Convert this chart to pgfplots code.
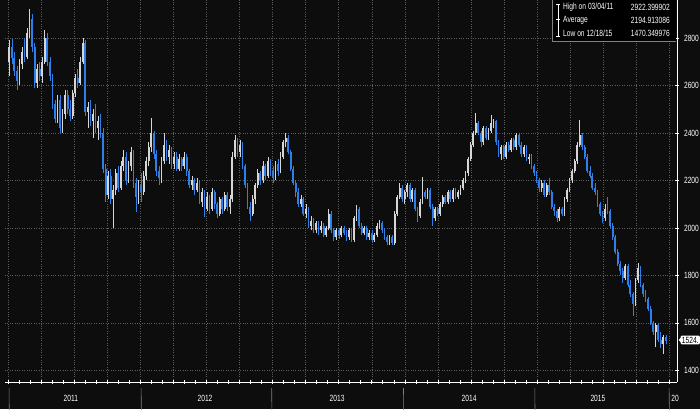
\documentclass[border=0pt]{standalone}
\usepackage{pgfplots}
\pgfplotsset{compat=1.18}
\usepackage{pgfplotstable}
\usepackage{fontspec}
\setmainfont{Liberation Sans}
\newfontfamily\bbg{Liberation Sans}[FakeStretch=0.74]

\definecolor{cup}{HTML}{D6D6D6}
\definecolor{cdown}{HTML}{2F7FEA}
\definecolor{bg}{HTML}{0D0D0D}
\definecolor{gridc}{HTML}{5C5C5C}

% weekly candles, first week ends 01/07/11
\pgfplotstableread[row sep=\\]{
o h l c\\
2700 2790 2640 2760\\ 2760 2795 2690 2715\\ 2715 2740 2640 2660\\ 2660 2680 2580 2620\\ 2620 2710 2600 2690\\ 2690 2760 2670 2740\\
2740 2800 2700 2720\\ 2720 2840 2710 2820\\ 2820 2922 2800 2880\\ 2880 2900 2740 2760\\ 2760 2780 2590 2610\\ 2610 2690 2590 2670\\
2670 2700 2620 2640\\ 2640 2720 2610 2700\\ 2700 2833 2690 2800\\ 2800 2820 2680 2700\\ 2700 2720 2620 2640\\ 2640 2650 2500 2520\\
2520 2540 2440 2460\\ 2460 2560 2440 2540\\ 2540 2560 2400 2420\\ 2420 2500 2399 2480\\ 2480 2580 2460 2560\\ 2560 2580 2480 2500\\
2500 2540 2450 2470\\ 2470 2580 2460 2570\\ 2570 2650 2550 2630\\ 2630 2670 2590 2610\\ 2610 2720 2600 2700\\ 2700 2800 2690 2780\\
2780 2790 2470 2490\\ 2490 2530 2420 2510\\ 2510 2540 2430 2450\\ 2450 2500 2380 2480\\ 2480 2520 2400 2420\\ 2420 2470 2370 2450\\
2450 2480 2380 2400\\ 2400 2420 2230 2250\\ 2250 2270 2110 2140\\ 2140 2240 2120 2220\\ 2220 2250 2100 2120\\ 2120 2180 2000 2160\\
2160 2250 2140 2230\\ 2230 2260 2150 2170\\ 2170 2280 2160 2260\\ 2260 2330 2240 2300\\ 2300 2320 2180 2200\\ 2200 2280 2190 2260\\
2260 2340 2240 2320\\ 2320 2330 2170 2190\\ 2190 2210 2065 2130\\ 2130 2200 2100 2180\\
2180 2230 2110 2150\\ 2150 2240 2140 2220\\ 2220 2300 2200 2280\\ 2280 2360 2260 2340\\ 2340 2462 2320 2400\\ 2400 2410 2290 2310\\
2310 2330 2220 2240\\ 2240 2260 2180 2210\\ 2210 2300 2190 2280\\ 2280 2400 2270 2350\\ 2350 2370 2280 2300\\ 2300 2350 2270 2330\\
2330 2340 2250 2270\\ 2270 2320 2250 2300\\ 2300 2320 2240 2250\\ 2250 2310 2240 2290\\ 2290 2300 2240 2260\\ 2260 2320 2250 2300\\
2300 2310 2220 2240\\ 2240 2250 2170 2180\\ 2180 2220 2160 2200\\ 2200 2210 2140 2160\\ 2160 2210 2150 2190\\ 2190 2200 2100 2110\\
2110 2170 2090 2150\\ 2150 2160 2044 2080\\ 2080 2150 2070 2130\\ 2130 2140 2060 2080\\ 2080 2170 2070 2150\\ 2150 2160 2080 2100\\
2100 2110 2040 2060\\ 2060 2130 2050 2120\\ 2120 2130 2060 2080\\ 2080 2150 2070 2140\\ 2140 2150 2070 2090\\ 2090 2140 2060 2120\\
2120 2320 2110 2300\\ 2300 2390 2290 2370\\ 2370 2380 2300 2320\\ 2320 2370 2300 2350\\ 2350 2360 2250 2260\\ 2260 2270 2170 2180\\
2180 2190 2080 2090\\ 2090 2110 2030 2060\\ 2060 2140 2050 2120\\ 2120 2190 2100 2180\\ 2180 2250 2170 2230\\ 2230 2240 2180 2200\\
2200 2280 2190 2260\\ 2260 2270 2200 2220\\ 2220 2300 2210 2280\\ 2280 2290 2220 2240\\
2240 2260 2190 2210\\ 2210 2280 2200 2270\\ 2270 2290 2220 2240\\ 2240 2320 2230 2300\\ 2300 2370 2290 2360\\ 2360 2400 2340 2380\\
2380 2390 2310 2320\\ 2320 2330 2240 2250\\ 2250 2260 2180 2190\\ 2190 2200 2130 2150\\ 2150 2170 2090 2100\\ 2100 2140 2090 2120\\
2120 2130 2050 2060\\ 2060 2100 2040 2080\\ 2080 2090 2000 2010\\ 2010 2050 1990 2030\\ 2030 2040 1980 1990\\ 1990 2030 1980 2020\\
2020 2030 1970 1990\\ 1990 2030 1980 2010\\ 2010 2020 1960 1970\\ 1970 2010 1960 2000\\ 2000 2080 1990 2060\\ 2060 2070 1980 1990\\
1990 2000 1945 1960\\ 1960 2000 1950 1990\\ 1990 2000 1955 1970\\ 1970 2010 1960 2000\\ 2000 2010 1970 1980\\ 1980 1990 1945 1960\\
1960 2000 1950 1990\\ 1990 2000 1940 1950\\ 1950 2050 1940 2040\\ 2040 2095 2030 2080\\ 2080 2090 2000 2010\\ 2010 2020 1970 1980\\
1980 2010 1970 2000\\ 2000 2010 1950 1960\\ 1960 1990 1950 1980\\ 1980 1990 1940 1950\\ 1950 1980 1940 1970\\ 1970 2020 1960 2010\\
2010 2035 1995 2020\\ 2020 2030 1980 1990\\ 1990 2000 1950 1960\\ 1960 1970 1930 1940\\ 1940 1970 1930 1960\\ 1960 1970 1926 1935\\
1935 2070 1930 2060\\ 2060 2140 2050 2130\\ 2130 2190 2120 2170\\ 2170 2180 2110 2120\\
2120 2160 2100 2150\\ 2150 2190 2130 2180\\ 2180 2190 2110 2120\\ 2120 2170 2110 2160\\ 2160 2170 2070 2080\\ 2080 2090 2023 2050\\
2050 2120 2040 2110\\ 2110 2213 2100 2150\\ 2150 2160 2120 2130\\ 2130 2170 2120 2160\\ 2160 2170 2080 2090\\ 2090 2100 2010 2040\\
2040 2090 2030 2080\\ 2080 2090 2050 2060\\ 2060 2110 2050 2100\\ 2100 2140 2090 2130\\ 2130 2140 2100 2110\\ 2110 2160 2100 2150\\
2150 2160 2110 2120\\ 2120 2170 2110 2160\\ 2160 2170 2120 2130\\ 2130 2160 2120 2150\\ 2150 2180 2140 2170\\ 2170 2210 2160 2200\\
2200 2240 2190 2230\\ 2230 2300 2220 2290\\ 2290 2360 2280 2350\\ 2350 2410 2340 2400\\ 2400 2483 2390 2440\\ 2440 2450 2390 2400\\
2400 2410 2340 2360\\ 2360 2430 2350 2420\\ 2420 2430 2370 2380\\ 2380 2420 2370 2410\\ 2410 2475 2400 2440\\ 2440 2460 2420 2450\\
2450 2455 2350 2360\\ 2360 2370 2300 2310\\ 2310 2350 2285 2340\\ 2340 2350 2290 2300\\ 2300 2360 2290 2350\\ 2350 2360 2320 2330\\
2330 2380 2320 2370\\ 2370 2380 2330 2340\\ 2340 2400 2330 2390\\ 2390 2400 2340 2350\\ 2350 2360 2300 2310\\ 2310 2350 2300 2340\\
2340 2350 2280 2290\\ 2290 2310 2270 2300\\ 2300 2310 2250 2260\\ 2260 2270 2220 2230\\ 2230 2240 2190 2200\\
2200 2210 2150 2170\\ 2170 2200 2150 2190\\ 2190 2200 2130 2140\\ 2140 2190 2130 2180\\ 2180 2210 2140 2150\\ 2150 2160 2080 2090\\
2090 2100 2050 2070\\ 2070 2080 2023 2040\\ 2040 2090 2030 2080\\ 2080 2090 2050 2060\\ 2060 2130 2050 2120\\ 2120 2170 2110 2160\\
2160 2210 2150 2200\\ 2200 2250 2190 2240\\ 2240 2290 2230 2280\\ 2280 2360 2270 2350\\ 2350 2454 2340 2390\\ 2390 2400 2330 2340\\
2340 2350 2290 2300\\ 2300 2310 2230 2240\\ 2240 2260 2210 2220\\ 2220 2230 2160 2170\\ 2170 2190 2140 2150\\ 2150 2160 2090 2100\\
2100 2110 2050 2060\\ 2060 2070 2020 2040\\ 2040 2100 2030 2080\\ 2080 2129 2060 2070\\ 2070 2080 2000 2010\\ 2010 2020 1950 1960\\
1960 1970 1890 1900\\ 1900 1910 1840 1850\\ 1850 1860 1800 1820\\ 1820 1830 1770 1790\\ 1790 1850 1780 1840\\ 1840 1850 1750 1760\\
1760 1780 1710 1720\\ 1720 1730 1631 1680\\ 1680 1790 1670 1780\\ 1780 1854 1770 1830\\ 1830 1840 1750 1760\\ 1760 1770 1710 1720\\
1720 1740 1690 1700\\ 1700 1710 1650 1660\\ 1660 1670 1590 1600\\ 1600 1610 1550 1560\\ 1560 1600 1500 1590\\ 1590 1600 1520 1530\\
1530 1560 1495 1510\\ 1510 1550 1470 1540\\ 1540 1550 1510 1524\\
}\ohlc

\begin{document}
\begin{tikzpicture}[x=1pt,y=1pt]
\fill[bg] (0,0) rectangle (700,409);
\path[use as bounding box] (0,0) rectangle (700,409);
\begin{axis}[
  at={(5pt,27pt)}, anchor=south west,
  scale only axis, width=672pt, height=382pt,
  xmin=-1.2, xmax=263.9, ymin=1351, ymax=2960,
  axis x line*=bottom, axis y line*=right,
  axis line style={white, line width=0.8pt},
  ytick={1400,1600,...,2800},
  xtick=\empty,
  tick align=center,
  major tick length=4pt,
  tick style={white, line width=0.6pt},
  ymajorgrids,
  major grid style={gridc, dash pattern=on 0.8pt off 1.6pt, line width=0.5pt},
  yticklabel style={font=\fontsize{9}{10}\bbg, text=white, xshift=1.5pt},
  /pgf/number format/assume math mode=true,
  /pgf/number format/set thousands separator={},
  clip=false,
  colormap={updown}{color=(cdown) color=(cup)},
  point meta min=0, point meta max=1,
]
% quarterly grid lines and monthly marks on the time axis
\pgfplotsinvokeforeach{0,...,20}{
  \draw[gridc, dash pattern=on 0.8pt off 1.6pt, line width=0.5pt]
    (axis cs:#1*13.045,1351) -- (axis cs:#1*13.045,2960);
}
\pgfplotsinvokeforeach{0,...,60}{
  \draw[white, line width=0.6pt]
    ([yshift=2pt]axis cs:#1*4.348,1351) -- ([yshift=-2pt]axis cs:#1*4.348,1351);
}
% wicks
\addplot[quiver={u=0, v=\thisrow{h}-\thisrow{l}, colored}, line width=0.6pt,
  point meta={\thisrow{c}>\thisrow{o}}]
  table[x expr=\coordindex+0.5, y=l] {\ohlc};
% bodies
\addplot[quiver={u=0, v=\thisrow{c}-\thisrow{o}, colored}, line width=1.8pt,
  point meta={\thisrow{c}>\thisrow{o}}]
  table[x expr=\coordindex+0.5, y=o] {\ohlc};

% year separators and labels
\draw[gray, line width=0.6pt] ([yshift=-6pt]axis cs:0.4,1351) -- ++(0,-22pt);
\draw[gray, line width=0.6pt] ([yshift=-6pt]axis cs:52.5,1351) -- ++(0,-22pt);
\draw[gray, line width=0.6pt] ([yshift=-6pt]axis cs:104,1351) -- ++(0,-22pt);
\draw[gray, line width=0.6pt] ([yshift=-6pt]axis cs:156,1351) -- ++(0,-22pt);
\draw[gray, line width=0.6pt] ([yshift=-6pt]axis cs:207.8,1351) -- ++(0,-22pt);
\draw[gray, line width=0.6pt] ([yshift=-6pt]axis cs:260.8,1351) -- ++(0,-22pt);
\node[text=white, font=\fontsize{9}{10}\bbg] at ([yshift=-16pt]axis cs:24.8,1351) {2011};
\node[text=white, font=\fontsize{9}{10}\bbg] at ([yshift=-16pt]axis cs:77.7,1351) {2012};
\node[text=white, font=\fontsize{9}{10}\bbg] at ([yshift=-16pt]axis cs:129.8,1351) {2013};
\node[text=white, font=\fontsize{9}{10}\bbg] at ([yshift=-16pt]axis cs:181.9,1351) {2014};
\node[text=white, font=\fontsize{9}{10}\bbg] at ([yshift=-16pt]axis cs:232.7,1351) {2015};
\node[text=white, font=\fontsize{9}{10}\bbg, anchor=west, inner sep=1pt] at ([yshift=-16pt]axis cs:261.2,1351) {20};
\end{axis}

% legend box
\fill[black] (552,368) rectangle (676,409);
\draw[gray, line width=0.5pt] (552,409) -- (552,368) -- (676,368);
\draw[white, line width=0.5pt] (558,405) -- (558,373);
\draw[white, line width=0.6pt] (556,405) -- (560,405);
\draw[white, line width=0.6pt] (556,390) -- (560,390);
\draw[white, line width=0.6pt] (556,373) -- (560,373);
\begin{scope}[every node/.style={text=white, font=\fontsize{9}{10}\bbg, inner sep=0pt}]
\node[anchor=west] at (563,402) {High on 03/04/11};
\node[anchor=east] at (670,402) {2922.399902};
\node[anchor=west] at (563,389) {Average};
\node[anchor=east] at (670,389) {2194.913086};
\node[anchor=west] at (563,376) {Low on 12/18/15};
\node[anchor=east] at (670,376) {1470.349976};
\end{scope}

% last price tag
\fill[white] (678.5,69) -- (683,73) -- (683,65) -- cycle;
\node[fill=white, text=black, font=\fontsize{9}{10}\bbg, inner sep=1.2pt, rounded corners=1pt, anchor=east] at (700,69) {1524.};
\end{tikzpicture}
\end{document}
